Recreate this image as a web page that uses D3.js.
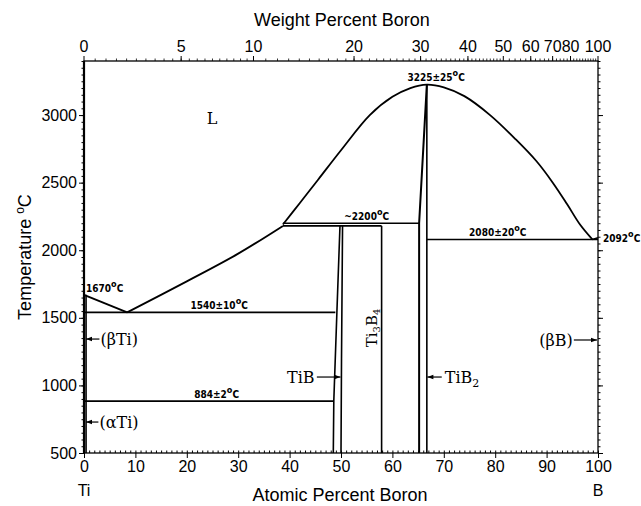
<!DOCTYPE html>
<html>
<head>
<meta charset="utf-8">
<script src="https://cdn.jsdelivr.net/npm/d3@7"></script>
<style>
  html, body { margin: 0; padding: 0; background: #fff; }
  svg { display: block; }
</style>
</head>
<body>
<svg id="chart" width="641" height="506"></svg>
<script>
// Ti–B phase diagram: atomic % B on the bottom axis, weight % B on top, temperature in °C.
const atTicks = [0, 10, 20, 30, 40, 50, 60, 70, 80, 90, 100];
const tempTicks = [500, 1000, 1500, 2000, 2500, 3000];
const wtTicks = [0, 5, 10, 20, 30, 40, 50, 60, 70, 80, 100];
const wtTickLabels = ["0", "5", "10", "20", "30", "40", "50", "60", "70", "80", "100"];

// Liquidus, Ti side: melting point of Ti down to the eutectic, then up to the peritectic
const liquidusTi = [[0, 1670], [8.4, 1540], [20, 1770], [30, 1975], [38.7, 2180]];
// Liquidus dome over TiB2 up to the congruent maximum and down to B
const liquidusDome = [[38.7, 2190], [42, 2350], [45.5, 2520], [50, 2740], [55.6, 3000], [60, 3135],
                      [63.5, 3200], [66.7, 3225], [70, 3205], [74, 3140], [79, 3000], [84, 2820],
                      [88, 2660], [91.2, 2500], [94, 2340], [96.5, 2190], [98.9, 2080]];
// Isotherms: [temperature, from at%, to at%]
const isotherms = [[1540, 0, 48.9], [884, 0, 48.6], [2180, 38.7, 57.9], [2200, 38.7, 65.2], [2080, 66.7, 100]];
// Compound phase boundaries
const tibLeft = [[49.8, 2180], [49.2, 1540], [48.6, 884], [48.5, 500]];
const tibRight = [[50.3, 2180], [50.1, 1200], [50.0, 500]];
const ti3b4 = [[57.9, 2180], [57.9, 500]];
const tib2Left = [[66.7, 3225], [65.2, 2200], [65.2, 500]];
const tib2Right = [[66.7, 3225], [66.7, 500]];
const tiSolvus = [[0.4, 1670], [0.4, 500]];
const bLiquidus = [[98.9, 2080], [100, 2092]];

const svg = d3.select("#chart");
const x = d3.scaleLinear().domain([0, 100]).range([84, 598]);
const y = d3.scaleLinear().domain([500, 3400]).range([453, 61]);

// weight % B -> atomic % B
const mTi = 47.867, mB = 10.811;
const wtToAt = w => {
  if (w >= 100) return 100;
  const nB = w / mB, nTi = (100 - w) / mTi;
  return 100 * nB / (nB + nTi);
};

const sans = "'Liberation Sans', Arial, sans-serif";
const serif = "'DejaVu Serif', 'Liberation Serif', serif";
const small = "'DejaVu Sans Condensed', 'DejaVu Sans', sans-serif";

// frame
svg.append("rect")
  .attr("x", x(0)).attr("y", y(3400))
  .attr("width", x(100) - x(0)).attr("height", y(500) - y(3400))
  .attr("fill", "none").attr("stroke", "#000").attr("stroke-width", 1.3);
svg.append("line").attr("x1", x(0)).attr("x2", x(0)).attr("y1", y(3400)).attr("y2", y(500))
  .attr("stroke", "#000").attr("stroke-width", 2.2);

// bottom axis
const bottomAxis = svg.append("g").attr("transform", `translate(0,${y(500)})`)
  .call(d3.axisBottom(x).tickValues(atTicks).tickSize(5).tickPadding(3).tickFormat(d3.format("d")));
bottomAxis.select(".domain").remove();
bottomAxis.selectAll("text").attr("font-family", sans).attr("font-size", 16).attr("fill", "#000");
svg.append("g").attr("transform", `translate(0,${y(500)})`)
  .call(d3.axisTop(x).tickValues(d3.range(0, 101, 1)).tickSize(2.5).tickFormat(""))
  .call(g => g.select(".domain").remove());

// left axis
const leftAxis = svg.append("g").attr("transform", `translate(${x(0)},0)`)
  .call(d3.axisLeft(y).tickValues(tempTicks).tickSize(5).tickPadding(2).tickFormat(d3.format("d")));
leftAxis.select(".domain").remove();
leftAxis.selectAll("text").attr("font-family", sans).attr("font-size", 16).attr("fill", "#000");
svg.append("g").attr("transform", `translate(${x(0)},0)`)
  .call(d3.axisLeft(y).tickValues(d3.range(500, 3401, 50)).tickSize(2.5).tickFormat(""))
  .call(g => g.select(".domain").remove());

// right axis
svg.append("g").attr("transform", `translate(${x(100)},0)`)
  .call(d3.axisRight(y).tickValues(tempTicks).tickSize(5).tickFormat(""))
  .call(g => g.select(".domain").remove());
svg.append("g").attr("transform", `translate(${x(100)},0)`)
  .call(d3.axisRight(y).tickValues(d3.range(500, 3401, 50)).tickSize(2.5).tickFormat(""))
  .call(g => g.select(".domain").remove());

// top axis in weight percent
const topAxis = svg.append("g").attr("transform", `translate(0,${y(3400)})`);
topAxis.selectAll("line.major").data(wtTicks).join("line").attr("class", "major")
  .attr("x1", d => x(wtToAt(d))).attr("x2", d => x(wtToAt(d)))
  .attr("y1", -5).attr("y2", 0).attr("stroke", "#000").attr("stroke-width", 1);
topAxis.selectAll("text").data(wtTicks).join("text")
  .attr("x", d => x(wtToAt(d))).attr("y", -9)
  .attr("text-anchor", "middle").attr("font-family", sans).attr("font-size", 16)
  .text((d, i) => wtTickLabels[i]);
const wtMinor = d3.range(0.5, 10, 0.5).concat(d3.range(11, 50, 1), d3.range(52, 100, 2));
topAxis.selectAll("line.minor").data(wtMinor).join("line").attr("class", "minor")
  .attr("x1", d => x(wtToAt(d))).attr("x2", d => x(wtToAt(d)))
  .attr("y1", -2.5).attr("y2", 0).attr("stroke", "#000").attr("stroke-width", 0.8);

// axis titles
svg.append("text").attr("x", 342).attr("y", 26).attr("text-anchor", "middle")
  .attr("font-family", sans).attr("font-size", 18).text("Weight Percent Boron");
svg.append("text").attr("x", 340).attr("y", 501).attr("text-anchor", "middle")
  .attr("font-family", sans).attr("font-size", 18).text("Atomic Percent Boron");
svg.append("text").attr("x", x(0)).attr("y", 496).attr("text-anchor", "middle")
  .attr("font-family", sans).attr("font-size", 16).text("Ti");
svg.append("text").attr("x", x(100)).attr("y", 496).attr("text-anchor", "middle")
  .attr("font-family", sans).attr("font-size", 16).text("B");
const yt = svg.append("text").attr("transform", "translate(31,257) rotate(-90)")
  .attr("text-anchor", "middle").attr("font-family", sans).attr("font-size", 18);
yt.append("tspan").text("Temperature ");
yt.append("tspan").attr("font-size", 12).attr("dy", -7).text("o");
yt.append("tspan").attr("dy", 7).text("C");

// phase boundaries
const line = d3.line().x(d => x(d[0])).y(d => y(d[1]));
const curve = d3.line().x(d => x(d[0])).y(d => y(d[1])).curve(d3.curveCatmullRom.alpha(0.5));
const plot = svg.append("g").attr("fill", "none").attr("stroke", "#000").attr("stroke-width", 1.6);
plot.append("path").attr("d", curve(liquidusTi.slice(1))).attr("stroke-width", 1.8);
plot.append("path").attr("d", line(liquidusTi.slice(0, 2))).attr("stroke-width", 1.8);
plot.append("path").attr("d", curve(liquidusDome)).attr("stroke-width", 1.8);
plot.append("path").attr("d", line(bLiquidus));
plot.selectAll("line.iso").data(isotherms).join("line").attr("class", "iso")
  .attr("x1", d => x(d[1])).attr("x2", d => x(d[2]))
  .attr("y1", d => y(d[0])).attr("y2", d => y(d[0]));
[tibLeft, tibRight, ti3b4, tib2Right, tiSolvus].forEach(p => plot.append("path").attr("d", line(p)));
plot.append("path").attr("d", line(tib2Left)).attr("stroke-width", 2);

// temperature annotations
const ann = [
  ["1670", 0.4, 1690, "start"], ["1540±10", 26.3, 1565, "middle"], ["884±2", 25.8, 909, "middle"],
  ["~2200", 55, 2225, "middle"], ["3225±25", 68.5, 3250, "middle"], ["2080±20", 80.5, 2105, "middle"]
];
const annG = svg.append("g").attr("font-family", small).attr("font-weight", "bold").attr("font-size", 10);
ann.forEach(([t, a, T, anchor]) => {
  const tx = annG.append("text").attr("x", x(a)).attr("y", y(T)).attr("text-anchor", anchor);
  tx.append("tspan").text(t);
  tx.append("tspan").attr("dy", -5).attr("font-size", 9).text("o");
  tx.append("tspan").attr("dy", 5).text("C");
});
{
  const tx = annG.append("text").attr("x", x(100) + 5).attr("y", y(2092) + 4).attr("text-anchor", "start");
  tx.append("tspan").text("2092");
  tx.append("tspan").attr("dy", -5).attr("font-size", 9).text("o");
  tx.append("tspan").attr("dy", 5).text("C");
}

// phase labels with arrows
const arrow = (x1, x2, yy) => {
  svg.append("line").attr("x1", x1).attr("x2", x2).attr("y1", yy).attr("y2", yy)
    .attr("stroke", "#000").attr("stroke-width", 1.2);
  const dir = Math.sign(x2 - x1);
  svg.append("path").attr("d", `M${x2},${yy} L${x2 - dir * 6},${yy - 2.2} L${x2 - dir * 6},${yy + 2.2} Z`)
    .attr("fill", "#000");
};
const lab = (t, px, py, anchor = "start") => svg.append("text").attr("x", px).attr("y", py)
  .attr("text-anchor", anchor).attr("font-family", serif).attr("font-size", 16).text(t);

lab("L", x(23.9), y(2933));
lab("(βTi)", x(3.2), y(1343) + 6);
arrow(x(3.0), x(0) + 2, y(1343));
lab("(αTi)", x(3.0), y(729) + 6);
arrow(x(2.8), x(0) + 2, y(729));
lab("TiB", x(39.5), y(1062) + 6);
arrow(x(45.3), x(49.9), y(1062));
const tb2 = lab("TiB", x(70.2), y(1062) + 6);
tb2.append("tspan").attr("font-size", 11).attr("dy", 4).text("2");
arrow(x(69.6), x(66.8), y(1062));
lab("(βB)", x(95.1), y(1336) + 6, "end");
arrow(x(95.3), x(100) - 1, y(1336));
const t34 = svg.append("text").attr("transform", `translate(${x(57.0)},${y(1425)}) rotate(-90)`)
  .attr("text-anchor", "middle").attr("font-family", serif).attr("font-size", 15);
t34.append("tspan").text("Ti");
t34.append("tspan").attr("font-size", 10).attr("dy", 3).text("3");
t34.append("tspan").attr("dy", -3).text("B");
t34.append("tspan").attr("font-size", 10).attr("dy", 3).text("4");
</script>
</body>
</html>
